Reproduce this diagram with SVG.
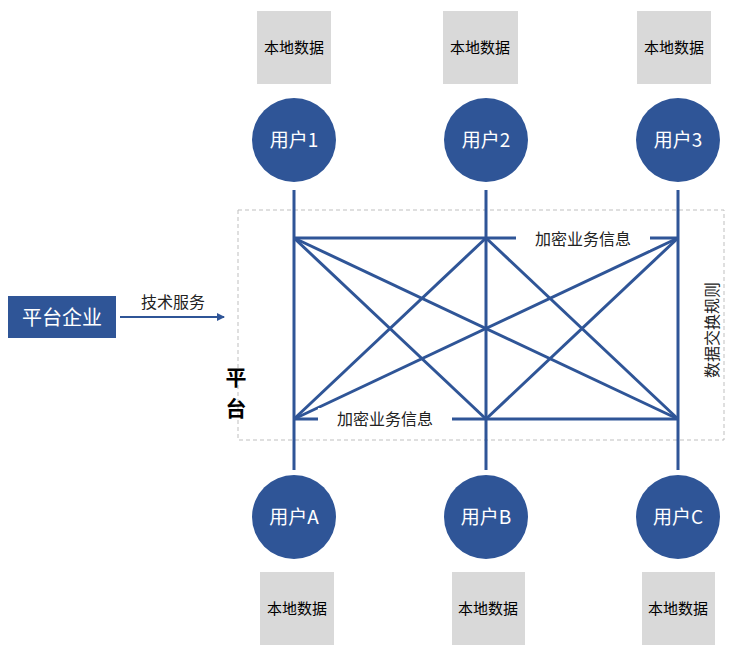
<svg xmlns="http://www.w3.org/2000/svg" width="735" height="655" viewBox="0 0 735 655">
<defs>
<style>
text{font-family:"Noto Sans CJK SC","Liberation Sans",sans-serif;}
.data rect{fill:#D9D9D9}
.data text{font-size:15px;fill:#000;text-anchor:middle}
.user circle{fill:#2F5597}
.user text{font-size:19px;fill:#fff;text-anchor:middle}
.ln{stroke:#2F5597;stroke-width:3;fill:none}
.lbl{font-size:16px;fill:#222}
</style>
<marker id="ar" markerWidth="8" markerHeight="8" refX="7" refY="4" orient="auto" markerUnits="userSpaceOnUse"><path d="M0,0 L8,4 L0,8 Z" fill="#2F5597"/></marker>
</defs>
<rect width="735" height="655" fill="#fff"/>
<rect x="238" y="210" width="486" height="230" fill="none" stroke="#BFBFBF" stroke-dasharray="4,3"/>
<g id="connectors" class="ln">
<line x1="294" y1="190" x2="294" y2="470"/>
<line x1="486" y1="190" x2="486" y2="470"/>
<line x1="678" y1="190" x2="678" y2="470"/>
<line x1="294" y1="238" x2="678" y2="238"/>
<line x1="294" y1="419" x2="678" y2="419"/>
<line x1="294" y1="238" x2="486" y2="419"/>
<line x1="294" y1="238" x2="678" y2="419"/>
<line x1="486" y1="238" x2="294" y2="419"/>
<line x1="486" y1="238" x2="678" y2="419"/>
<line x1="678" y1="238" x2="294" y2="419"/>
<line x1="678" y1="238" x2="486" y2="419"/>
<line x1="120" y1="317" x2="224" y2="317" stroke-width="2" marker-end="url(#ar)"/>
</g>
<g id="labels">
<rect x="516" y="228" width="134" height="22" fill="#fff"/>
<text class="lbl" x="583" y="245" text-anchor="middle">加密业务信息</text>
<rect x="318" y="408" width="134" height="22" fill="#fff"/>
<text class="lbl" x="385" y="425" text-anchor="middle">加密业务信息</text>
<text class="lbl" x="173" y="308" text-anchor="middle">技术服务</text>
<text x="236" y="385" font-size="21" font-weight="bold" text-anchor="middle">平</text>
<text x="236" y="416" font-size="21" font-weight="bold" text-anchor="middle">台</text>
<text class="lbl" transform="translate(718,330) rotate(-90)" text-anchor="middle">数据交换规则</text>
</g>
<g id="platform"><rect x="8" y="296" width="108" height="42" fill="#2F5597"/><text x="62" y="325" font-size="20" fill="#fff" text-anchor="middle">平台企业</text></g>
<g id="u1" class="user"><circle cx="294" cy="140" r="42"/><text x="294" y="147">用户1</text></g>
<g id="u2" class="user"><circle cx="486" cy="140" r="42"/><text x="486" y="147">用户2</text></g>
<g id="u3" class="user"><circle cx="678" cy="140" r="42"/><text x="678" y="147">用户3</text></g>
<g id="uA" class="user"><circle cx="294" cy="517" r="42"/><text x="294" y="524">用户A</text></g>
<g id="uB" class="user"><circle cx="486" cy="517" r="42"/><text x="486" y="524">用户B</text></g>
<g id="uC" class="user"><circle cx="678" cy="517" r="42"/><text x="678" y="524">用户C</text></g>
<g id="d1" class="data"><rect x="257" y="11" width="74" height="73"/><text x="294" y="53">本地数据</text></g>
<g id="d2" class="data"><rect x="443" y="11" width="75" height="73"/><text x="480" y="53">本地数据</text></g>
<g id="d3" class="data"><rect x="637" y="11" width="74" height="73"/><text x="674" y="53">本地数据</text></g>
<g id="dA" class="data"><rect x="260" y="572" width="74" height="73"/><text x="297" y="614">本地数据</text></g>
<g id="dB" class="data"><rect x="452" y="572" width="73" height="73"/><text x="488" y="614">本地数据</text></g>
<g id="dC" class="data"><rect x="642" y="572" width="73" height="73"/><text x="678" y="614">本地数据</text></g>
</svg>
